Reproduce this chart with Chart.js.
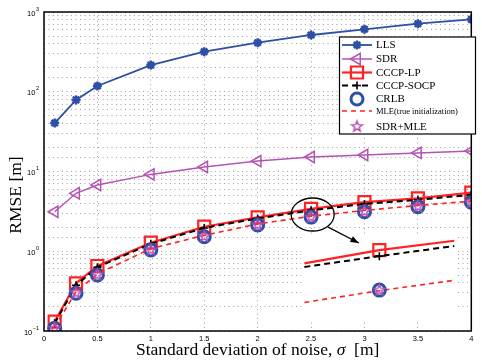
<!DOCTYPE html>
<html>
<head>
<meta charset="utf-8">
<script src="https://cdn.jsdelivr.net/npm/chart.js@4.4.1/dist/chart.umd.min.js"></script>
<style>
  html, body { margin: 0; padding: 0; background: #fff; }
  #wrap { width: 482px; height: 364px; }
</style>
</head>
<body>
<div id="wrap"><canvas id="c"></canvas></div>
<script>
// values
const sigma = [0.1, 0.3, 0.5, 1, 1.5, 2, 2.5, 3, 3.5, 4];
const lls = [40.5, 79, 118, 216, 318, 412, 515, 607, 713, 809];
const sdr = [3.13, 5.33, 6.78, 9.2, 11.4, 13.5, 15.2, 16.1, 17.1, 18.1];
const cccpLp = [0.131, 0.396, 0.653, 1.28, 2.03, 2.66, 3.40, 4.12, 4.61, 5.42];
const cccpSocp = [0.125, 0.375, 0.63, 1.24, 1.96, 2.58, 3.26, 3.92, 4.42, 5.1];
const crlb = [0.108, 0.297, 0.504, 1.04, 1.52, 2.13, 2.68, 3.13, 3.62, 4.11];
const mle = [0.112, 0.31, 0.52, 1.08, 1.58, 2.2, 2.75, 3.25, 3.75, 4.25];
const sdrMle = [0.108, 0.30, 0.505, 1.04, 1.53, 2.14, 2.68, 3.14, 3.63, 4.12];

// zoomed view around sigma = 2.5
const insetSigma = [2.35, 2.5, 2.65];
const insetLp = [3.08, 3.36, 3.57];
const insetSocp = [3.01, 3.23, 3.45];
const insetMle = [2.39, 2.58, 2.76];
const insetCrlb = 2.59;

const yTickExps = [3, 2, 1, 0, -1];
const legendLabels = ['LLS', 'SDR', 'CCCP-LP', 'CCCP-SOCP', 'CRLB', 'MLE(true initialization)', 'SDR+MLE'];

const BLUE = '#2d4fa6', MAG = '#b552b5', RED = '#ff2222';

function pts(xs, ys) { return xs.map((x, i) => ({x: x, y: ys[i]})); }

// five point star marker
function pentagram(r, color) {
  const c = document.createElement('canvas');
  const s = Math.ceil(r * 2 + 4);
  c.width = s; c.height = s;
  const g = c.getContext('2d');
  g.beginPath();
  for (let i = 0; i < 10; i++) {
    const rr = i % 2 ? r * 0.42 : r;
    const a = -Math.PI / 2 + i * Math.PI / 5;
    const px = s / 2 + rr * Math.cos(a), py = s / 2 + rr * Math.sin(a);
    i ? g.lineTo(px, py) : g.moveTo(px, py);
  }
  g.closePath();
  g.strokeStyle = color; g.lineWidth = 1.5; g.stroke();
  return c;
}
const starImg = pentagram(5.5, MAG);

const styles = [
  {borderColor: BLUE, borderWidth: 1.8, pointStyle: 'star', pointRadius: 4.5, pointBorderWidth: 2.5},
  {borderColor: MAG, borderWidth: 1.5, pointStyle: 'triangle', pointRotation: -90, pointRadius: 6.5, pointBorderWidth: 1.5},
  {borderColor: RED, borderWidth: 2.2, pointStyle: 'rect', pointRadius: 8.5, pointBorderWidth: 2.2},
  {borderColor: '#000', borderWidth: 2, borderDash: [6, 4], pointStyle: 'cross', pointRadius: 4, pointBorderWidth: 1.6},
  {borderColor: BLUE, borderWidth: 0, showLine: false, pointStyle: 'circle', pointRadius: 6, pointBorderWidth: 3},
  {borderColor: RED, borderWidth: 1.6, borderDash: [5, 4], pointRadius: 0},
  {borderColor: MAG, borderWidth: 0, showLine: false, pointStyle: starImg, pointRadius: 6}
];
const series = [lls, sdr, cccpLp, cccpSocp, crlb, mle, sdrMle];

const datasets = series.map((s, i) => Object.assign({
  label: legendLabels[i],
  data: pts(sigma, s),
  backgroundColor: 'transparent',
  pointBackgroundColor: 'transparent',
  pointBorderColor: styles[i].borderColor,
  order: 20 - i,
  tension: 0
}, styles[i]));

// inset datasets
const mid = [0, 1, 0];
datasets.push(
  Object.assign({}, styles[2], {label: 'i-lp', data: pts(insetSigma, insetLp), xAxisID: 'xi', yAxisID: 'yi',
    pointRadius: mid.map(m => m * 8.5), pointBackgroundColor: 'transparent', pointBorderColor: RED, order: 10}),
  Object.assign({}, styles[3], {label: 'i-socp', data: pts(insetSigma, insetSocp), xAxisID: 'xi', yAxisID: 'yi',
    pointRadius: mid.map(m => m * 4), pointBorderColor: '#000', order: 9}),
  Object.assign({}, styles[5], {label: 'i-mle', data: pts(insetSigma, insetMle), xAxisID: 'xi', yAxisID: 'yi', order: 8}),
  Object.assign({}, styles[4], {label: 'i-crlb', data: [{x: insetSigma[1], y: insetCrlb}], xAxisID: 'xi', yAxisID: 'yi',
    pointBackgroundColor: 'transparent', pointBorderColor: BLUE, order: 7}),
  Object.assign({}, styles[6], {label: 'i-sdrmle', data: [{x: insetSigma[1], y: insetCrlb}], xAxisID: 'xi', yAxisID: 'yi', order: 6})
);

const decor = {
  id: 'decor',
  beforeDatasetsDraw(chart) {
    // blank area behind the zoomed view
    const {ctx, scales: {x, y}} = chart;
    const l = x.getPixelForValue(2.41), r = x.getPixelForValue(3.86);
    const t = y.getPixelForValue(1.645), b = y.getPixelForValue(0.137);
    ctx.save();
    ctx.fillStyle = '#fff';
    ctx.fillRect(l, t, r - l, b - t);
    ctx.restore();
  },
  afterDatasetsDraw(chart) {
    const {ctx, chartArea: a, scales: {x, y}} = chart;
    ctx.save();
    // axes box
    ctx.strokeStyle = '#000'; ctx.lineWidth = 1.5; ctx.setLineDash([]);
    ctx.strokeRect(a.left, a.top, a.right - a.left, a.bottom - a.top);

    // ellipse + arrow
    ctx.lineWidth = 1.3;
    ctx.beginPath();
    ctx.ellipse(x.getPixelForValue(2.515), y.getPixelForValue(2.89), 21.5, 16.5, 0, 0, Math.PI * 2);
    ctx.stroke();
    const x0 = x.getPixelForValue(2.66), y0 = y.getPixelForValue(2.01);
    const x1 = x.getPixelForValue(2.947), y1 = y.getPixelForValue(1.27);
    ctx.beginPath(); ctx.moveTo(x0, y0); ctx.lineTo(x1, y1); ctx.stroke();
    const ang = Math.atan2(y1 - y0, x1 - x0);
    ctx.beginPath();
    ctx.moveTo(x1, y1);
    ctx.lineTo(x1 - 9 * Math.cos(ang - 0.38), y1 - 9 * Math.sin(ang - 0.38));
    ctx.lineTo(x1 - 9 * Math.cos(ang + 0.38), y1 - 9 * Math.sin(ang + 0.38));
    ctx.closePath(); ctx.fillStyle = '#000'; ctx.fill();

    // y tick labels 10^n
    ctx.fillStyle = '#000';
    ctx.textBaseline = 'middle';
    yTickExps.forEach(e => {
      const py = y.getPixelForValue(Math.pow(10, e));
      const ex = e < 0 ? '\u2212' + (-e) : String(e);
      ctx.font = '5.5px "Liberation Sans"';
      const ew = ctx.measureText(ex).width;
      ctx.textAlign = 'left';
      ctx.fillText(ex, 39 - ew, py - 3);
      ctx.font = '7.5px "Liberation Sans"';
      ctx.textAlign = 'right';
      ctx.fillText('10', 38.5 - ew, py + 1.5);
    });

    // axis titles
    ctx.textBaseline = 'alphabetic';
    ctx.textAlign = 'left';
    const parts = [['Standard deviation of noise, ', ''], ['\u03c3', 'italic '], ['  [m]', '']];
    let tw = 0;
    parts.forEach(p => { ctx.font = p[1] + '17.5px "Liberation Serif"'; tw += ctx.measureText(p[0]).width; });
    let tx = (a.left + a.right) / 2 - tw / 2;
    parts.forEach(p => {
      ctx.font = p[1] + '17.5px "Liberation Serif"';
      ctx.fillText(p[0], tx, 355);
      tx += ctx.measureText(p[0]).width;
    });
    ctx.font = '17.5px "Liberation Serif"';
    ctx.textAlign = 'center';
    ctx.save();
    ctx.translate(21, 195);
    ctx.rotate(-Math.PI / 2);
    ctx.fillText('RMSE [m]', 0, 0);
    ctx.restore();

    // legend
    ctx.textBaseline = 'middle';
    const lx = 339.5, ly = 37, lw = 136, lh = 97;
    ctx.fillStyle = '#fff'; ctx.fillRect(lx, ly, lw, lh);
    ctx.strokeStyle = '#000'; ctx.lineWidth = 1.2; ctx.strokeRect(lx, ly, lw, lh);
    const rows = [45, 59, 72.5, 85.5, 99, 111, 126.5];
    rows.forEach((ry, i) => {
      const st = styles[i];
      if (st.borderWidth && st.showLine !== false) {
        ctx.save();
        ctx.strokeStyle = st.borderColor; ctx.lineWidth = st.borderWidth;
        ctx.setLineDash(st.borderDash || []);
        ctx.beginPath(); ctx.moveTo(342, ry); ctx.lineTo(372, ry); ctx.stroke();
        ctx.restore();
      }
      if (st.pointRadius) {
        ctx.save();
        ctx.strokeStyle = st.borderColor; ctx.fillStyle = 'transparent';
        ctx.lineWidth = st.pointBorderWidth || 1;
        Chart.helpers.drawPoint(ctx, {pointStyle: st.pointStyle, rotation: st.pointRotation || 0,
          radius: st.pointRadius, borderWidth: st.pointBorderWidth || 1}, 357, ry);
        ctx.restore();
      }
      ctx.fillStyle = '#000'; ctx.textAlign = 'left';
      ctx.font = i === 5 ? '8.5px "Liberation Serif"' : '11px "Liberation Serif"';
      ctx.fillText(legendLabels[i], 376, ry + 0.5);
    });
    ctx.restore();
  }
};

new Chart(document.getElementById('c'), {
  type: 'line',
  data: {datasets: datasets},
  options: {
    responsive: true,
    maintainAspectRatio: false,
    animation: false,
    devicePixelRatio: 1,
    layout: {padding: {top: 12, right: 5, left: 0, bottom: 0}},
    plugins: {legend: {display: false}, tooltip: {enabled: false}},
    scales: {
      x: {
        type: 'linear', min: 0, max: 4,
        afterFit: s => { s.height = 33; },
        ticks: {stepSize: 0.5, color: '#000', font: {family: 'Liberation Sans', size: 7.5}, padding: 3, maxRotation: 0,
          callback: v => String(v)},
        grid: {color: 'rgba(0,0,0,0.36)', lineWidth: 1, drawTicks: false},
        border: {display: false, dash: [1, 3.5]}
      },
      y: {
        type: 'logarithmic', min: 0.1, max: 1000,
        afterFit: s => { s.width = 44; },
        ticks: {display: false, autoSkip: false},
        grid: {color: 'rgba(0,0,0,0.36)', lineWidth: 1, drawTicks: false},
        border: {display: false, dash: [1, 3.5]}
      },
      xi: {type: 'linear', display: false, min: 1.829, max: 2.684},
      yi: {type: 'logarithmic', display: false, min: 1.985, max: 15.8}
    }
  },
  plugins: [decor]
});
</script>
</body>
</html>
